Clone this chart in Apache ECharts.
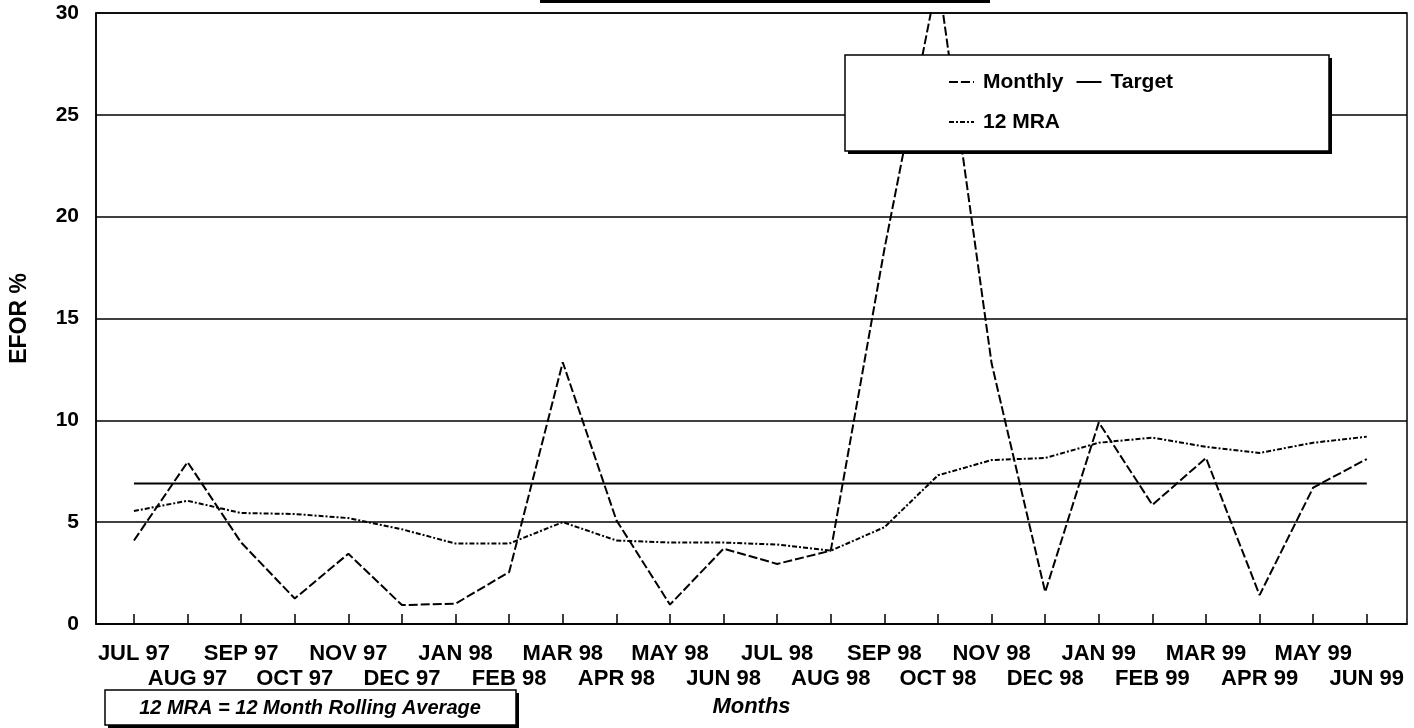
<!DOCTYPE html>
<html lang="en">
<head>
    <meta charset="UTF-8">
    <title>EFOR %</title>
    <script src="https://cdn.jsdelivr.net/npm/echarts@6/dist/echarts.min.js"></script>
    <style type="text/css">
    html, body { margin: 0; padding: 0; background: #fff; }
    #main { width: 1414px; height: 728px; }
    </style>
</head>
<body>
    <div id="main"></div>
    <script type="text/javascript">
        // months on the x axis
        var months = ['JUL 97', 'AUG 97', 'SEP 97', 'OCT 97', 'NOV 97', 'DEC 97', 'JAN 98', 'FEB 98',
            'MAR 98', 'APR 98', 'MAY 98', 'JUN 98', 'JUL 98', 'AUG 98', 'SEP 98', 'OCT 98',
            'NOV 98', 'DEC 98', 'JAN 99', 'FEB 99', 'MAR 99', 'APR 99', 'MAY 99', 'JUN 99'];
        var monthly = [4.1, 7.95, 4.0, 1.25, 3.45, 0.93, 1.0, 2.55, 12.85, 5.1, 0.95, 3.7,
            2.95, 3.6, 18.4, 31.8, 12.8, 1.57, 9.9, 5.85, 8.15, 1.42, 6.7, 8.1];
        var target = [6.9, 6.9, 6.9, 6.9, 6.9, 6.9, 6.9, 6.9, 6.9, 6.9, 6.9, 6.9,
            6.9, 6.9, 6.9, 6.9, 6.9, 6.9, 6.9, 6.9, 6.9, 6.9, 6.9, 6.9];
        var mra = [5.55, 6.05, 5.45, 5.4, 5.2, 4.65, 3.95, 3.95, 5.0, 4.1, 4.0, 4.0,
            3.9, 3.6, 4.75, 7.3, 8.05, 8.15, 8.9, 9.15, 8.7, 8.4, 8.9, 9.2];

        var font = "'Liberation Sans', Arial, sans-serif";
        var idx = months.map(function (m, i) { return i; });
        // labels are staggered on two rows: even months on top, odd months below
        var evenIdx = idx.filter(function (i) { return i % 2 === 0; });
        var oddIdx = idx.filter(function (i) { return i % 2 === 1; });

        function pairs(arr) {
            return arr.map(function (v, i) { return [i, v]; });
        }

        // box with a hard drop shadow (legend frame and footnote frame)
        function shadowBox(x, y, w, h, z) {
            return [{
                type: 'rect', z: z, silent: true,
                shape: { x: x + 3, y: y + 3, width: w, height: h },
                style: { fill: '#000' }
            }, {
                type: 'rect', z: z, silent: true,
                shape: { x: x, y: y, width: w, height: h },
                style: { fill: '#fff', stroke: '#000', lineWidth: 1.5 }
            }];
        }

        var labelStyle = {
            fontFamily: font,
            fontSize: 22,
            fontWeight: 'bold',
            color: '#000',
            showMinLabel: true,
            showMaxLabel: true,
            formatter: function (v) { return months[Math.round(v)]; }
        };

        var myChart = echarts.init(document.getElementById('main'));
        var option = {
            animation: false,
            backgroundColor: '#fff',
            grid: {
                left: 95,
                right: 7,
                top: 13,
                bottom: 104,
                show: true,
                borderColor: '#000',
                borderWidth: 1.5
            },
            legend: {
                left: 845,
                top: 55,
                width: 240,
                padding: [13, 125, 20, 103],
                itemGap: 12,
                itemWidth: 25,
                itemHeight: 2,
                z: 6,
                textStyle: { fontFamily: font, fontSize: 21, fontWeight: 'bold', color: '#000', lineHeight: 28, padding: [0, 0, 0, 4] },
                data: ['Monthly', 'Target', '12 MRA']
            },
            xAxis: [{
                type: 'value',
                position: 'bottom',
                min: -0.708,
                max: 23.75,
                name: 'Months',
                nameLocation: 'middle',
                nameGap: 72,
                nameTextStyle: { fontFamily: font, fontSize: 22, fontWeight: 'bold', fontStyle: 'italic', color: '#000' },
                axisLine: { show: true, onZero: false, lineStyle: { color: '#000', width: 1.5 } },
                axisTick: { show: true, inside: true, length: 10, customValues: idx, lineStyle: { color: '#000', width: 1.5 } },
                axisLabel: Object.assign({ customValues: evenIdx, margin: 19 }, labelStyle),
                splitLine: { show: false }
            }, {
                type: 'value',
                position: 'bottom',
                min: -0.708,
                max: 23.75,
                axisLine: { show: false, onZero: false },
                axisTick: { show: false },
                axisLabel: Object.assign({ customValues: oddIdx, margin: 44 }, labelStyle),
                splitLine: { show: false }
            }],
            yAxis: {
                type: 'value',
                min: 0,
                max: 30,
                interval: 5,
                name: 'EFOR %',
                nameLocation: 'middle',
                nameGap: 65,
                nameTextStyle: { fontFamily: font, fontSize: 23, fontWeight: 'bold', color: '#000' },
                axisLine: { show: true, onZero: false, lineStyle: { color: '#000', width: 1.5 } },
                axisTick: { show: false },
                axisLabel: {
                    margin: 17,
                    fontFamily: font,
                    fontSize: 21,
                    fontWeight: 'bold',
                    color: '#000'
                },
                splitLine: { show: true, lineStyle: { color: '#000', width: 1.5 } }
            },
            graphic: [{
                // remnant of the title box cut off at the top
                type: 'rect',
                left: 540,
                top: 0,
                shape: { width: 450, height: 3 },
                style: { fill: '#000' },
                silent: true
            }].concat(shadowBox(845, 55, 484, 96, 5))
              .concat(shadowBox(105, 690, 411, 35, 5))
              .concat([{
                type: 'text',
                z: 6,
                x: 310,
                y: 708,
                style: {
                    text: '12 MRA = 12 Month Rolling Average',
                    font: "italic bold 20px 'Liberation Sans', Arial, sans-serif",
                    fill: '#000',
                    align: 'center',
                    verticalAlign: 'middle'
                }
            }]),
            series: [{
                name: 'Monthly',
                type: 'line',
                data: pairs(monthly),
                symbol: 'none',
                clip: true,
                lineStyle: { color: '#000', width: 2, type: [9, 3] },
                itemStyle: { color: '#000' },
                z: 3
            }, {
                name: 'Target',
                type: 'line',
                data: pairs(target),
                symbol: 'none',
                lineStyle: { color: '#000', width: 2, type: 'solid' },
                itemStyle: { color: '#000' },
                z: 2
            }, {
                name: '12 MRA',
                type: 'line',
                data: pairs(mra),
                symbol: 'none',
                lineStyle: { color: '#000', width: 2, type: [5, 2, 2, 2] },
                itemStyle: { color: '#000' },
                z: 3
            }]
        };
        myChart.setOption(option);
    </script>
</body>
</html>
